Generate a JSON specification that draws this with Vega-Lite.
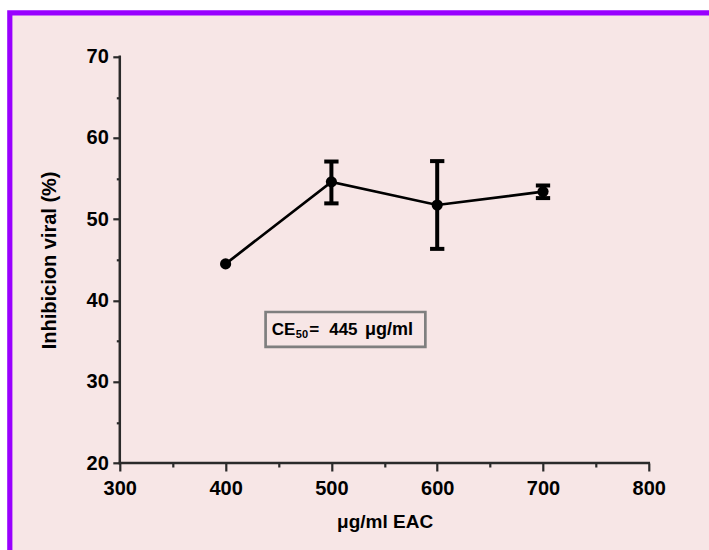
{
  "$schema": "https://vega.github.io/schema/vega-lite/v6.json",
  "autosize": {"type": "none"},
  "width": 699.2,
  "height": 537.2,
  "padding": {"left": 9.8, "top": 12.8, "right": 0, "bottom": 0},
  "background": "#ffffff",
  "view": {"fill": "#f7e6e6", "stroke": "#9900ff", "strokeWidth": 5.2, "strokeDash": [699.2, 1236.4], "strokeCap": "square"},
  "config": {
    "axis": {"labelFont": "Liberation Sans", "titleFont": "Liberation Sans", "labelFontWeight": "bold", "titleFontWeight": "bold", "labelColor": "#000000", "titleColor": "#000000", "tickColor": "#2a2a2a", "tickWidth": 2.2, "domain": false, "grid": false, "labelOverlap": false, "labelFlush": false},
    "text": {"font": "Liberation Sans", "fontWeight": "bold", "color": "#000000"}
  },
  "datasets": {
    "xline": [{"x1": 300, "x2": 800, "y": 20}],
    "yline": [{"x": 300, "y1": 20, "y2": 70}],
    "main": [
      {"dose": 400, "mean": 44.5, "lo": null, "hi": null},
      {"dose": 500, "mean": 54.6, "lo": 51.95, "hi": 57.1},
      {"dose": 600, "mean": 51.75, "lo": 46.35, "hi": 57.15},
      {"dose": 700, "mean": 53.4, "lo": 52.6, "hi": 54.15}
    ],
    "note": [{"x1": 437.8, "x2": 588.8, "y1": 34.28, "y2": 38.58, "ty": 35.75}]
  },
  "resolve": {"axis": {"x": "independent", "y": "independent"}},
  "layer": [
    {
      "data": {"name": "xline"},
      "mark": {"type": "rule", "color": "#2a2a2a", "strokeWidth": 2.5, "strokeCap": "square"},
      "encoding": {
        "x": {"field": "x1", "type": "quantitative",
              "scale": {"domain": [196.03, 856.9], "nice": false, "zero": false},
              "axis": {"orient": "bottom", "offset": -87, "values": [300, 400, 500, 600, 700, 800], "tickSize": 8, "labelFontSize": 20, "labelPadding": 23, "labelBaseline": "alphabetic", "title": "μg/ml EAC", "titleFontSize": 19, "titleX": 374.8, "titleY": 64, "titleBaseline": "alphabetic", "titleAlign": "center", "titleAnchor": null}},
        "x2": {"field": "x2"},
        "y": {"field": "y", "type": "quantitative",
              "scale": {"domain": [9.294, 75.402], "nice": false, "zero": false},
              "axis": {"orient": "left", "offset": -110, "values": [20, 30, 40, 50, 60, 70], "tickSize": 7, "labelFontSize": 20, "labelPadding": 4.5, "title": "Inhibicion viral (%)", "titleFontSize": 20, "titleX": -64.8, "titleY": 247.1, "titleBaseline": "alphabetic", "titleAngle": -90, "titleAlign": "center", "titleAnchor": null}}
      }
    },
    {
      "data": {"name": "yline"},
      "mark": {"type": "rule", "color": "#2a2a2a", "strokeWidth": 2.5, "strokeCap": "square"},
      "encoding": {
        "x": {"field": "x", "type": "quantitative",
              "scale": {"domain": [196.03, 856.9], "nice": false, "zero": false},
              "axis": {"orient": "bottom", "offset": -87, "values": [350, 450, 550, 650, 750], "tickSize": 4, "labels": false, "title": null}},
        "y": {"field": "y1", "type": "quantitative",
              "scale": {"domain": [9.294, 75.402], "nice": false, "zero": false},
              "axis": {"orient": "left", "offset": -110, "values": [25, 35, 45, 55, 65], "tickSize": 3.5, "labels": false, "title": null}},
        "y2": {"field": "y2"}
      }
    },
    {
      "data": {"name": "main"},
      "mark": {"type": "line", "color": "#000000", "strokeWidth": 2.7},
      "encoding": {
        "x": {"field": "dose", "type": "quantitative", "scale": {"domain": [196.03, 856.9], "nice": false, "zero": false}, "axis": null},
        "y": {"field": "mean", "type": "quantitative", "scale": {"domain": [9.294, 75.402], "nice": false, "zero": false}, "axis": null}
      }
    },
    {
      "data": {"name": "main"},
      "transform": [{"filter": "datum.lo != null"}],
      "mark": {"type": "rule", "color": "#000000", "strokeWidth": 4},
      "encoding": {
        "x": {"field": "dose", "type": "quantitative", "scale": {"domain": [196.03, 856.9], "nice": false, "zero": false}, "axis": null},
        "y": {"field": "lo", "type": "quantitative", "scale": {"domain": [9.294, 75.402], "nice": false, "zero": false}, "axis": null},
        "y2": {"field": "hi"}
      }
    },
    {
      "data": {"name": "main"},
      "transform": [{"filter": "datum.lo != null"}],
      "mark": {"type": "tick", "orient": "horizontal", "color": "#000000", "size": 14.3, "thickness": 4, "opacity": 1},
      "encoding": {
        "x": {"field": "dose", "type": "quantitative", "scale": {"domain": [196.03, 856.9], "nice": false, "zero": false}, "axis": null},
        "y": {"field": "lo", "type": "quantitative", "scale": {"domain": [9.294, 75.402], "nice": false, "zero": false}, "axis": null}
      }
    },
    {
      "data": {"name": "main"},
      "transform": [{"filter": "datum.hi != null"}],
      "mark": {"type": "tick", "orient": "horizontal", "color": "#000000", "size": 14.3, "thickness": 4, "opacity": 1},
      "encoding": {
        "x": {"field": "dose", "type": "quantitative", "scale": {"domain": [196.03, 856.9], "nice": false, "zero": false}, "axis": null},
        "y": {"field": "hi", "type": "quantitative", "scale": {"domain": [9.294, 75.402], "nice": false, "zero": false}, "axis": null}
      }
    },
    {
      "data": {"name": "main"},
      "mark": {"type": "circle", "color": "#000000", "size": 125, "opacity": 1},
      "encoding": {
        "x": {"field": "dose", "type": "quantitative", "scale": {"domain": [196.03, 856.9], "nice": false, "zero": false}, "axis": null},
        "y": {"field": "mean", "type": "quantitative", "scale": {"domain": [9.294, 75.402], "nice": false, "zero": false}, "axis": null}
      }
    },
    {
      "data": {"name": "note"},
      "mark": {"type": "rect", "filled": false, "stroke": "#7f7f7f", "strokeWidth": 2.7},
      "encoding": {
        "x": {"field": "x1", "type": "quantitative", "scale": {"domain": [196.03, 856.9], "nice": false, "zero": false}, "axis": null},
        "x2": {"field": "x2"},
        "y": {"field": "y1", "type": "quantitative", "scale": {"domain": [9.294, 75.402], "nice": false, "zero": false}, "axis": null},
        "y2": {"field": "y2"}
      }
    },
    {
      "data": {"name": "note"},
      "mark": {"type": "text", "text": "CE", "fontSize": 17, "align": "left", "baseline": "alphabetic", "dx": 6.1},
      "encoding": {
        "x": {"field": "x1", "type": "quantitative", "scale": {"domain": [196.03, 856.9], "nice": false, "zero": false}, "axis": null},
        "y": {"field": "ty", "type": "quantitative", "scale": {"domain": [9.294, 75.402], "nice": false, "zero": false}, "axis": null}
      }
    },
    {
      "data": {"name": "note"},
      "mark": {"type": "text", "text": "50", "fontSize": 11, "align": "left", "baseline": "alphabetic", "dx": 30.2, "dy": 2.5},
      "encoding": {
        "x": {"field": "x1", "type": "quantitative", "scale": {"domain": [196.03, 856.9], "nice": false, "zero": false}, "axis": null},
        "y": {"field": "ty", "type": "quantitative", "scale": {"domain": [9.294, 75.402], "nice": false, "zero": false}, "axis": null}
      }
    },
    {
      "data": {"name": "note"},
      "mark": {"type": "text", "text": "=", "fontSize": 17, "align": "left", "baseline": "alphabetic", "dx": 43.6},
      "encoding": {
        "x": {"field": "x1", "type": "quantitative", "scale": {"domain": [196.03, 856.9], "nice": false, "zero": false}, "axis": null},
        "y": {"field": "ty", "type": "quantitative", "scale": {"domain": [9.294, 75.402], "nice": false, "zero": false}, "axis": null}
      }
    },
    {
      "data": {"name": "note"},
      "mark": {"type": "text", "text": "445", "fontSize": 17, "align": "left", "baseline": "alphabetic", "dx": 63.6},
      "encoding": {
        "x": {"field": "x1", "type": "quantitative", "scale": {"domain": [196.03, 856.9], "nice": false, "zero": false}, "axis": null},
        "y": {"field": "ty", "type": "quantitative", "scale": {"domain": [9.294, 75.402], "nice": false, "zero": false}, "axis": null}
      }
    },
    {
      "data": {"name": "note"},
      "mark": {"type": "text", "text": "μg/ml", "fontSize": 18, "align": "left", "baseline": "alphabetic", "dx": 99.4},
      "encoding": {
        "x": {"field": "x1", "type": "quantitative", "scale": {"domain": [196.03, 856.9], "nice": false, "zero": false}, "axis": null},
        "y": {"field": "ty", "type": "quantitative", "scale": {"domain": [9.294, 75.402], "nice": false, "zero": false}, "axis": null}
      }
    }
  ]
}
